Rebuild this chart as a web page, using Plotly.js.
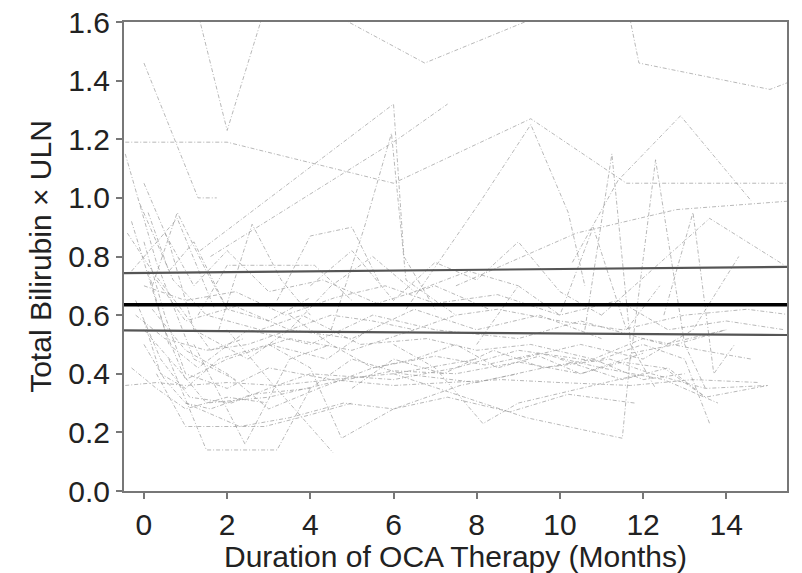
<!DOCTYPE html>
<html>
<head>
<meta charset="utf-8">
<script src="https://cdn.plot.ly/plotly-3.0.1.min.js"></script>
<style>html,body{margin:0;padding:0;background:#fff;}#chart{width:802px;height:573px;}</style>
</head>
<body>
<div id="chart"></div>
<script>
// ---- Individual patient trajectories (months, total bilirubin x ULN) ----
const mA = [0, 1.3, 1.75];                 const bA = [1.46, 1.0, 1.0];
const mB = [1, 2, 3];                      const bB = [1.80, 1.23, 1.69];
const mC = [4, 6.75, 9.5];                 const bC = [1.67, 1.46, 1.62];
const mD = [11.5, 11.9, 15.05, 15.6];      const bD = [1.74, 1.46, 1.37, 1.40];
const mE = [-0.45, 2.0, 6.0, 9.3, 11.6, 15.6]; const bE = [1.19, 1.19, 1.05, 1.27, 1.05, 1.05];
const mF = [-0.45, 0.3, 1.2, 2.2];         const bF = [1.15, 0.78, 0.45, 0.38];
const mG1 = [1.35, 6.0, 6.25, 7.0];        const bG1 = [0.82, 1.32, 0.80, 0.62];
const mG2 = [1.6, 6.1, 7.3];               const bG2 = [0.80, 1.20, 1.32];
const mH = [4.5, 5.3, 5.95, 6.3, 7.5];     const bH = [0.55, 0.90, 1.22, 0.72, 0.60];
const mI = [6.3, 8.1, 9.3, 10.2, 10.6];    const bI = [0.62, 0.99, 1.25, 0.95, 0.70];
const mJ = [10.3, 11.4, 12.9, 14.6];       const bJ = [0.78, 1.06, 1.28, 0.99];
const mK = [10.6, 11.25, 11.7, 12.3];      const bK = [0.55, 1.15, 0.50, 0.35];
const mL = [11.7, 12.3, 13.0, 13.5];       const bL = [0.45, 1.13, 0.50, 0.35];
const mM = [7.5, 10.4, 12.8, 15.6];        const bM = [0.70, 0.88, 0.96, 0.99];
const mN = [11.0, 13.6, 15.4];             const bN = [0.60, 0.93, 0.77];
const mO = [0, 0.6, 1.2, 2.5];             const bO = [1.05, 0.85, 0.55, 0.45];
const mP = [0.2, 0.8, 1.5, 2.0];           const bP = [0.70, 0.95, 0.75, 0.62];
const mQ = [-0.3, 0.8, 1.7];               const bQ = [0.75, 0.93, 0.62];
const mR = [1.3, 2.0, 4.1, 5.0];           const bR = [0.60, 0.77, 0.77, 0.65];
const mS = [1.8, 2.6, 3.3, 4.0];           const bS = [0.55, 0.91, 0.72, 0.60];
const mT = [3.2, 4.0, 5.0, 5.7];           const bT = [0.65, 0.87, 0.90, 0.70];
const m01 = [-0.3, 0.5, 1.0, 2.0, 3.5, 5.0, 6.5]; const b01 = [0.92, 0.55, 0.38, 0.45, 0.52, 0.48, 0.55];
const m02 = [0, 0.5, 1.0, 2.0, 3.0, 4.5, 6.0, 8.0]; const b02 = [0.85, 0.60, 0.40, 0.35, 0.42, 0.38, 0.40, 0.45];
const m03 = [-0.2, 0.4, 1.1, 2.1, 3.0, 4.0, 6.0, 7.5, 9.0, 11.0]; const b03 = [0.65, 0.45, 0.32, 0.30, 0.35, 0.40, 0.38, 0.42, 0.48, 0.44];
const m04 = [0.1, 0.6, 1.3, 2.5, 4.0, 5.5, 7.0, 9.0, 10.5, 12.5, 14.0]; const b04 = [0.75, 0.50, 0.42, 0.55, 0.50, 0.60, 0.55, 0.52, 0.58, 0.50, 0.55];
const m05 = [-0.45, 0.3, 1.0, 2.0, 3.2, 4.5, 6.0, 7.2, 8.6, 10.0, 11.7, 13.2, 14.8]; const b05 = [0.36, 0.37, 0.36, 0.37, 0.36, 0.38, 0.36, 0.37, 0.38, 0.37, 0.36, 0.38, 0.37];
const m06 = [0, 0.8, 1.5, 3.0, 4.5, 6.0, 7.5, 9.0, 10.5, 12.0]; const b06 = [0.55, 0.42, 0.30, 0.32, 0.37, 0.41, 0.40, 0.44, 0.40, 0.47];
const m07 = [0.2, 1.0, 2.0, 3.0, 4.2, 5.5, 7.0, 8.2, 9.5, 11.0, 12.5, 13.8]; const b07 = [0.62, 0.48, 0.40, 0.28, 0.35, 0.42, 0.46, 0.43, 0.47, 0.42, 0.38, 0.30];
const m08 = [0, 0.5, 1.0, 1.6, 2.6, 4.0, 5.0, 6.2, 8.0, 9.6, 11.2, 12.2, 13.5, 15.0]; const b08 = [0.50, 0.38, 0.30, 0.28, 0.33, 0.35, 0.45, 0.40, 0.37, 0.42, 0.45, 0.40, 0.35, 0.36];
const m09 = [0.3, 1.0, 2.2, 3.5, 5.0, 6.5, 8.0, 9.5, 11.0]; const b09 = [0.72, 0.58, 0.63, 0.55, 0.52, 0.62, 0.55, 0.60, 0.52];
const m10 = [-0.1, 0.7, 1.5, 2.8, 3.8, 5.2, 6.8, 8.0, 9.3, 10.8, 12.0, 13.4, 14.6]; const b10 = [0.98, 0.72, 0.60, 0.55, 0.60, 0.50, 0.52, 0.48, 0.50, 0.45, 0.52, 0.48, 0.45];
const m11 = [0.5, 1.2, 2.0, 3.0, 4.3, 5.6, 7.0, 8.3]; const b11 = [0.88, 0.70, 0.82, 0.68, 0.72, 0.64, 0.70, 0.62];
const m12 = [1.0, 2.3, 3.5, 4.8, 6.0, 7.3, 8.8, 10.2, 11.8]; const b12 = [0.30, 0.22, 0.25, 0.30, 0.28, 0.32, 0.27, 0.33, 0.30];
const m13 = [0.6, 1.5, 2.4, 3.2, 4.0]; const b13 = [0.45, 0.14, 0.14, 0.14, 0.35];
const m14 = [1.2, 2.43, 3.5, 4.5]; const b14 = [0.50, 0.16, 0.45, 0.50];
const m15 = [2.0, 3.0, 4.55]; const b15 = [0.55, 0.38, 0.13];
const m16 = [3.0, 4.0, 4.75, 6.0, 7.6, 9.0]; const b16 = [0.50, 0.42, 0.18, 0.28, 0.36, 0.40];
const m17 = [6.0, 7.0, 8.15, 9.0, 10.5, 12.0]; const b17 = [0.50, 0.42, 0.23, 0.30, 0.35, 0.40];
const m18 = [6.0, 7.5, 9.2, 11.5, 11.7, 12.8, 14.0]; const b18 = [0.40, 0.33, 0.25, 0.18, 0.47, 0.50, 0.55];
const m19 = [11.0, 12.0, 13.0, 13.6]; const b19 = [0.45, 0.50, 0.45, 0.23];
const m20 = [10.0, 11.5, 12.6, 13.5, 15.0]; const b20 = [0.45, 0.38, 0.42, 0.32, 0.36];
const m21 = [0.3, 1.0, 2.9, 4.0, 5.0]; const b21 = [0.40, 0.22, 0.22, 0.26, 0.30];
const m22 = [-0.2, 0.5, 1.5, 2.5, 3.5, 4.5, 5.5, 6.5, 7.5, 8.5, 10.0, 11.5, 13.0, 14.5, 15.6]; const b22 = [0.60, 0.52, 0.48, 0.50, 0.55, 0.60, 0.58, 0.55, 0.60, 0.62, 0.58, 0.55, 0.60, 0.62, 0.60];
const m23 = [0, 1.0, 2.2, 3.4, 4.6, 5.8, 7.0, 8.5, 10.0, 11.4, 12.6, 14.0, 15.4]; const b23 = [0.70, 0.65, 0.68, 0.60, 0.66, 0.70, 0.64, 0.67, 0.60, 0.65, 0.55, 0.58, 0.55];
const m24 = [9.0, 10.5, 12.0, 13.2, 14.3]; const b24 = [0.45, 0.50, 0.45, 0.55, 0.80];
const m25 = [12.5, 13.2, 13.7, 14.2]; const b25 = [0.60, 0.95, 0.40, 0.50];
const m26 = [2.5, 3.5, 4.5, 5.5, 6.5, 7.8, 9.0]; const b26 = [0.45, 0.55, 0.70, 0.80, 0.68, 0.75, 0.70];
const m27 = [4.0, 5.0, 6.0, 7.0, 8.0, 9.0, 10.0, 11.0]; const b27 = [0.70, 0.82, 0.65, 0.78, 0.72, 0.85, 0.68, 0.60];
const m28 = [8.0, 9.0, 10.0, 10.8, 11.6, 12.4]; const b28 = [0.50, 0.70, 0.60, 0.90, 0.55, 0.70];
const m29 = [5.0, 6.0, 7.2, 8.4, 9.6, 10.8, 12.0, 13.0]; const b29 = [0.35, 0.45, 0.40, 0.48, 0.42, 0.45, 0.38, 0.40];
const m31 = [-0.4, 0.2, 0.9, 1.6, 2.4]; const b31 = [0.88, 0.75, 0.62, 0.48, 0.52];
const m32 = [0, 0.4, 1.0, 1.8, 3.0, 4.4, 5.4]; const b32 = [0.58, 0.40, 0.35, 0.45, 0.50, 0.45, 0.55];
const m33 = [0.1, 0.6, 1.2, 2.0, 3.0, 4.0]; const b33 = [0.95, 0.75, 0.85, 0.62, 0.58, 0.66];
const m34 = [-0.3, 0.3, 1.0, 2.0, 3.0]; const b34 = [0.42, 0.35, 0.28, 0.32, 0.30];
const m35 = [3.5, 4.5, 5.5, 6.5, 7.5, 8.5, 9.5, 10.5, 11.5, 12.5, 13.5]; const b35 = [0.60, 0.50, 0.42, 0.45, 0.50, 0.42, 0.46, 0.40, 0.44, 0.42, 0.32];

// ---- Model fit: mean and 95% confidence band ----
const fitMonths = [-0.5, 15.6];
const fitMean  = [0.635, 0.635];
const fitUpper = [0.743, 0.765];
const fitLower = [0.548, 0.532];

// ---- Axis ticks ----
const xTicks = [0, 2, 4, 6, 8, 10, 12, 14];
const yTicks = [0.0, 0.2, 0.4, 0.6, 0.8, 1.0, 1.2, 1.4, 1.6];

const patients = [
  [mA,bA],[mB,bB],[mC,bC],[mD,bD],[mE,bE],[mF,bF],[mG1,bG1],[mG2,bG2],[mH,bH],[mI,bI],
  [mJ,bJ],[mK,bK],[mL,bL],[mM,bM],[mN,bN],[mO,bO],[mP,bP],[mQ,bQ],[mR,bR],[mS,bS],[mT,bT],
  [m01,b01],[m02,b02],[m03,b03],[m04,b04],[m05,b05],[m06,b06],[m07,b07],[m08,b08],[m09,b09],
  [m10,b10],[m11,b11],[m12,b12],[m13,b13],[m14,b14],[m15,b15],[m16,b16],[m17,b17],[m18,b18],
  [m19,b19],[m20,b20],[m21,b21],[m22,b22],[m23,b23],[m24,b24],[m25,b25],[m26,b26],[m27,b27],
  [m28,b28],[m29,b29],[m31,b31],[m32,b32],[m33,b33],[m34,b34],[m35,b35]
];

const traces = patients.map(p => ({
  x: p[0], y: p[1], type: 'scatter', mode: 'lines', hoverinfo: 'skip',
  line: {color: 'rgba(160,160,160,0.75)', width: 1, dash: '4px,2px,1px,2px'}
}));
traces.push({x: fitMonths, y: fitUpper, type: 'scatter', mode: 'lines', hoverinfo: 'skip', line: {color: '#555', width: 2.2}});
traces.push({x: fitMonths, y: fitLower, type: 'scatter', mode: 'lines', hoverinfo: 'skip', line: {color: '#555', width: 2.2}});
traces.push({x: fitMonths, y: fitMean,  type: 'scatter', mode: 'lines', hoverinfo: 'skip', line: {color: '#000', width: 3.5}});

const fontFam = '"Liberation Sans", Arial, sans-serif';
const txt = {family: fontFam, size: 30, color: '#222'};
const layout = {
  width: 802, height: 573,
  margin: {l: 124, r: 15, t: 22, b: 82},
  paper_bgcolor: '#fff', plot_bgcolor: '#fff',
  showlegend: false,
  font: txt,
  xaxis: {
    range: [-0.48, 15.46], tickvals: xTicks, ticktext: xTicks.map(String),
    showgrid: false, zeroline: false, showline: true, mirror: true, automargin: false,
    linecolor: '#777', linewidth: 2, ticks: 'outside', ticklen: 6, tickwidth: 2, tickcolor: '#777',
    tickfont: txt,
    title: {text: 'Duration of OCA Therapy (Months)', font: txt, standoff: 4}
  },
  yaxis: {
    range: [0, 1.6], tickvals: yTicks, ticktext: yTicks.map(v => v.toFixed(1)),
    showgrid: false, zeroline: false, showline: true, mirror: true, automargin: false,
    linecolor: '#777', linewidth: 2, ticks: 'outside', ticklen: 6, tickwidth: 2, tickcolor: '#777',
    tickfont: txt,
    title: {text: 'Total Bilirubin × ULN', font: txt, standoff: 8}
  }
};
Plotly.newPlot('chart', traces, layout, {displayModeBar: false, staticPlot: true});
</script>
</body>
</html>
